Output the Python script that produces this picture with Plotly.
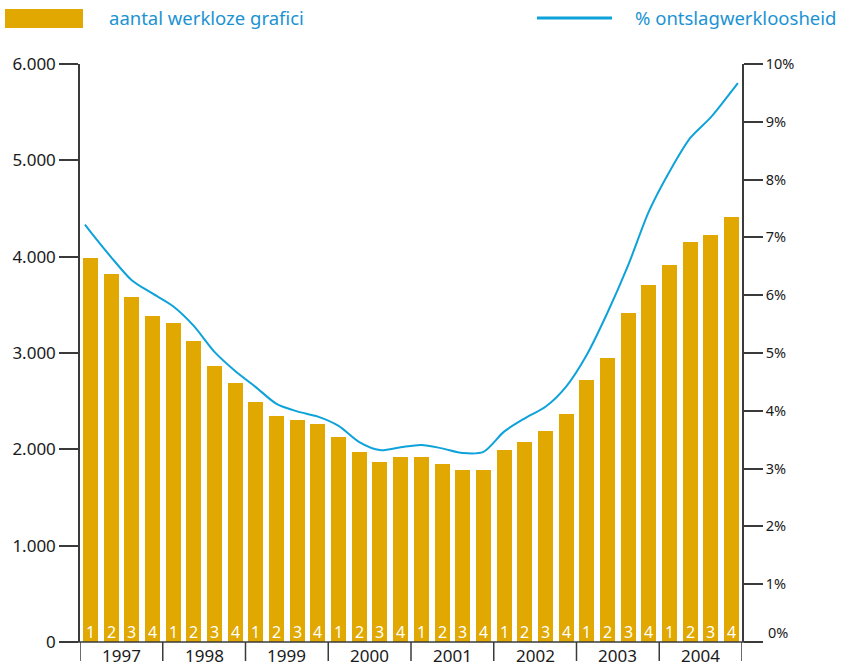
import plotly.graph_objects as go

# ---- data ----
years = ["1997", "1998", "1999", "2000", "2001", "2002", "2003", "2004"]
quarters = ["1", "2", "3", "4"]
werkloze = [3990, 3825, 3585, 3380, 3315, 3120, 2860, 2685,
            2495, 2350, 2300, 2258, 2124, 1968, 1864, 1916,
            1916, 1843, 1781, 1781, 1989, 2072, 2186, 2362,
            2715, 2953, 3420, 3709, 3918, 4157, 4229, 4416]
# line: time position in quarter index (0 = 1997 Q1 centre), value in %
line_t = [-0.26] + list(range(32)) + [31.3]
line_pct = [7.22, 7.10, 6.66, 6.26, 6.03, 5.81, 5.47, 5.02, 4.69,
            4.41, 4.12, 3.99, 3.90, 3.74, 3.46, 3.32, 3.37,
            3.41, 3.35, 3.27, 3.29, 3.64, 3.87, 4.07, 4.42,
            4.97, 5.70, 6.52, 7.45, 8.14, 8.72, 9.08, 9.53, 9.67]
left_ticks = [0, 1000, 2000, 3000, 4000, 5000, 6000]
left_labels = ["0", "1.000", "2.000", "3.000", "4.000", "5.000", "6.000"]
right_ticks = list(range(0, 11))
right_labels = [""] + [f"{v}%" for v in range(1, 11)]

BAR = "#E0A800"
LINE = "#0EA2DA"
LEG = "#1B93D3"
AX = "#3a3a3a"
TXT = "#1a1a1a"
FONT = "Noto Sans"

n = len(werkloze)
xq = list(range(n))
qlabels = [quarters[i % 4] for i in range(n)]

W, H = 841, 663
L, R, T, B = 80, 99, 64, 21
pw, ph = W - L - R, H - T - B


def px(x):
    return (x - L) / pw


def py(y):
    return (H - B - y) / ph


fig = go.Figure()
fig.add_trace(go.Bar(
    x=xq, y=werkloze, width=0.725, marker=dict(color=BAR, line=dict(width=0)),
    hoverinfo="skip", showlegend=False, yaxis="y"))
fig.add_trace(go.Scatter(
    x=line_t, y=line_pct, mode="lines",
    line=dict(color=LINE, width=2, shape="spline", smoothing=0.8),
    showlegend=False, yaxis="y2", hoverinfo="skip"))

shapes = []
# bottom axis line
shapes.append(dict(type="line", xref="paper", yref="paper", x0=px(61), x1=px(760),
                   y0=0, y1=0, line=dict(color=AX, width=1.5)))
# year separators
for k in range(len(years) + 1):
    shapes.append(dict(type="line", xref="x", yref="paper", x0=-0.5 + 4 * k, x1=-0.5 + 4 * k,
                       y0=0, y1=py(661), line=dict(color=AX, width=1.5)))
# legend marks
shapes.append(dict(type="rect", xref="paper", yref="paper", x0=px(5), x1=px(83),
                   y0=py(28), y1=py(9), fillcolor=BAR, line=dict(width=0)))
shapes.append(dict(type="line", xref="paper", yref="paper", x0=px(537), x1=px(612),
                   y0=py(18), y1=py(18), line=dict(color=LINE, width=3)))

annotations = []
for i in range(n):
    annotations.append(dict(x=xq[i], y=0, xref="x", yref="y", text=qlabels[i],
                            showarrow=False, xanchor="center", yanchor="middle", yshift=10,
                            font=dict(size=16, color="white", family=FONT)))
for k, yr in enumerate(years):
    annotations.append(dict(x=1.5 + 4 * k, y=py(655), xref="x", yref="paper", text=yr,
                            showarrow=False, xanchor="center", yanchor="middle",
                            font=dict(size=17, color=TXT, family=FONT)))
annotations.append(dict(x=px(107), y=py(18), xref="paper", yref="paper",
                        text="aantal werkloze grafici", showarrow=False,
                        xanchor="left", yanchor="middle",
                        font=dict(size=18.5, color=LEG, family=FONT)))
annotations.append(dict(x=px(838), y=py(18), xref="paper", yref="paper",
                        text="% ontslagwerkloosheid", showarrow=False,
                        xanchor="right", yanchor="middle",
                        font=dict(size=18.5, color=LEG, family=FONT)))
annotations.append(dict(x=px(766), y=py(632), xref="paper", yref="paper",
                        text="0%", showarrow=False, xanchor="left", yanchor="middle",
                        font=dict(size=14.5, color=TXT, family=FONT)))

fig.update_layout(
    width=W, height=H,
    margin=dict(l=L, r=R, t=T, b=B, pad=0, autoexpand=False),
    paper_bgcolor="white", plot_bgcolor="white",
    bargap=0,
    hovermode=False,
    xaxis=dict(range=[-0.5, 31.5], showticklabels=False, showgrid=False, zeroline=False,
               showline=False, ticks="", fixedrange=True),
    yaxis=dict(range=[0, 6000], tickvals=left_ticks, ticktext=left_labels,
               ticks="outside", ticklen=19, tickwidth=1.5, tickcolor=AX,
               showline=True, linecolor=AX, linewidth=1.5, showgrid=False, zeroline=False,
               tickfont=dict(size=17, color=TXT, family=FONT)),
    yaxis2=dict(range=[0, 10], tickvals=right_ticks, ticktext=right_labels,
                overlaying="y", side="right", anchor="x",
                ticks="outside", ticklen=19, tickwidth=1.5, tickcolor=AX,
                showline=True, linecolor=AX, linewidth=1.5, showgrid=False, zeroline=False,
                tickfont=dict(size=14.5, color=TXT, family=FONT)),
    shapes=shapes, annotations=annotations,
)

fig.write_html("out.html", config={"displayModeBar": False},
               post_script="document.body.style.margin='0';document.body.style.overflow='hidden';")
